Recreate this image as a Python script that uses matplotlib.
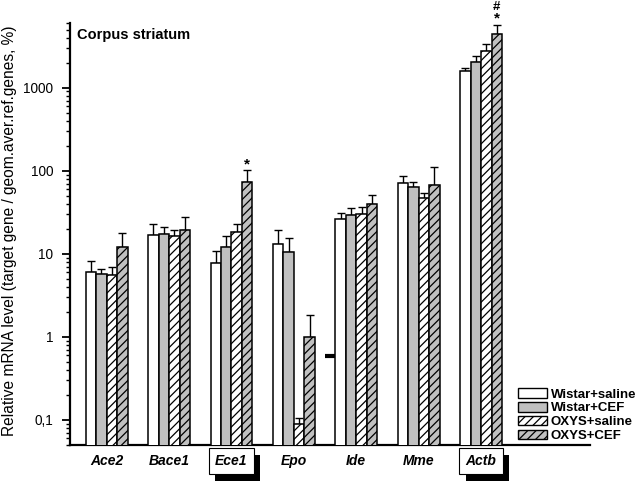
import numpy as np
import matplotlib
matplotlib.use("Agg")
import matplotlib.pyplot as plt
from matplotlib import patheffects as pe
from matplotlib.patches import Patch

plt.rcParams['font.family'] = ['Liberation Sans', 'DejaVu Sans']
plt.rcParams['hatch.linewidth'] = 0.9

genes = ["Ace2", "Bace1", "Ece1", "Epo", "Ide", "Mme", "Actb"]
boxed = ["Ece1", "Actb"]
groups = ["Wistar+saline", "Wistar+CEF", "OXYS+saline", "OXYS+CEF"]

wistar_saline = [6.0, 16.9, 7.85, 13.2, 26.2, 71, 1574]
wistar_saline_err = [8.1, 22.8, 10.7, 19.5, 30.9, 87, 1722]
wistar_cef = [5.7, 17.3, 12.0, 10.5, 29.2, 64.6, 2040]
wistar_cef_err = [6.6, 21.3, 16.6, 15.5, 35.2, 74.2, 2420]
oxys_saline = [5.5, 16.5, 18.4, 0.089, 30.0, 47.3, 2790]
oxys_saline_err = [7.0, 19.5, 23.0, 0.105, 36.5, 54.7, 3340]
oxys_cef = [12.2, 19.5, 74, 1.0, 40, 67, 4440]
oxys_cef_err = [17.9, 28.1, 101, 1.84, 50.9, 110, 5740]

# significance marks on OXYS+CEF bars (star: vs Wistar, hash: vs OXYS+saline)
star_genes = ["Ece1", "Actb"]
hash_genes = ["Actb"]
# stray dash visible in the original figure (x position in group units, value)
dash_x, dash_y = 3.58, 0.59

yticks = [0.1, 1, 10, 100, 1000]
yticklabels = ["0,1", "1", "10", "100", "1000"]

values = [wistar_saline, wistar_cef, oxys_saline, oxys_cef]
errs = [wistar_saline_err, wistar_cef_err, oxys_saline_err, oxys_cef_err]
faces = ["white", "#c0c0c0", "white", "#c0c0c0"]
hatches = [None, None, "////", "////"]

fig = plt.figure(figsize=(6.38, 4.83), dpi=100)
ax = fig.add_axes([70/638, 1-445/483, 520/638, 422/483])

x = np.arange(len(genes))
w = 0.168
for k in range(4):
    xs = x + (k - 1.5) * w
    v = np.array(values[k]); e = np.array(errs[k])
    ax.errorbar(xs, v, yerr=[np.zeros_like(v), e - v], fmt='none', ecolor='black',
                elinewidth=1.0, capsize=3.2, capthick=1.0, zorder=2)
    ax.bar(xs, v, width=w, color=faces[k], edgecolor='black', linewidth=1.1,
           hatch=hatches[k], zorder=3, label=groups[k])

for g in star_genes:
    i = genes.index(g)
    ax.annotate("*", xy=(x[i] + 1.5 * w, oxys_cef_err[i]), xytext=(0, 4.5),
                textcoords='offset points', ha='center', va='center',
                fontsize=11, fontweight='bold', annotation_clip=False)
for g in hash_genes:
    i = genes.index(g)
    ax.annotate("#", xy=(x[i] + 1.5 * w, oxys_cef_err[i]), xytext=(0, 12.8),
                textcoords='offset points', ha='center', va='center',
                fontsize=9.5, fontweight='bold', annotation_clip=False)

ax.plot([dash_x], [dash_y], marker='_', markersize=7, mew=3, color='black')

ax.set_yscale('log')
ax.set_ylim(0.05, 6000)
ax.set_xlim(-0.588, 7.745)
ax.set_yticks(yticks)
ax.set_yticklabels(yticklabels, fontsize=9.8)
ax.yaxis.set_minor_locator(matplotlib.ticker.LogLocator(base=10, subs=np.arange(2, 10)))
ax.yaxis.set_minor_formatter(matplotlib.ticker.NullFormatter())
ax.tick_params(axis='y', which='major', length=6, width=1.3, direction='out', pad=6)
ax.tick_params(axis='y', which='minor', length=3.2, width=1.0, direction='out')
ax.set_xticks([])
for s in ['top', 'right']:
    ax.spines[s].set_visible(False)
for s in ['left', 'bottom']:
    ax.spines[s].set_linewidth(1.6)

ax.set_ylabel("Relative mRNA level (target gene / geom.aver.ref.genes, %)", fontsize=11.2)
ax.yaxis.set_label_coords(-0.102, 0.507)

for i, g in enumerate(genes):
    t = ax.annotate(g, xy=(x[i], 0), xycoords=('data', 'axes fraction'),
                    xytext=(0, -11.5), textcoords='offset points',
                    ha='center', va='center', fontsize=10,
                    fontweight='bold', fontstyle='italic')
    if g in boxed:
        t.set_bbox(dict(boxstyle='square,pad=0.45', facecolor='white', edgecolor='black', linewidth=0.8))
        t.get_bbox_patch().set_path_effects([
            pe.SimplePatchShadow(offset=(4.5, -5), shadow_rgbFace='black', alpha=1),
            pe.Normal()])

ax.text(0.0135, 0.972, "Corpus striatum", transform=ax.transAxes, fontsize=10.5,
        fontweight='bold', ha='left', va='center')

handles = [Patch(facecolor=faces[k], edgecolor='black', hatch=hatches[k], linewidth=1.0) for k in range(4)]
leg = ax.legend(handles, groups, loc='lower left', bbox_to_anchor=(518/638, 1-442/483),
                bbox_transform=fig.transFigure, frameon=False, borderpad=0, borderaxespad=0,
                handlelength=2.2, handleheight=0.75, handletextpad=0.3, labelspacing=0.1,
                prop={'size': 9.5, 'weight': 'bold'})

fig.savefig("out.png", dpi=100)
